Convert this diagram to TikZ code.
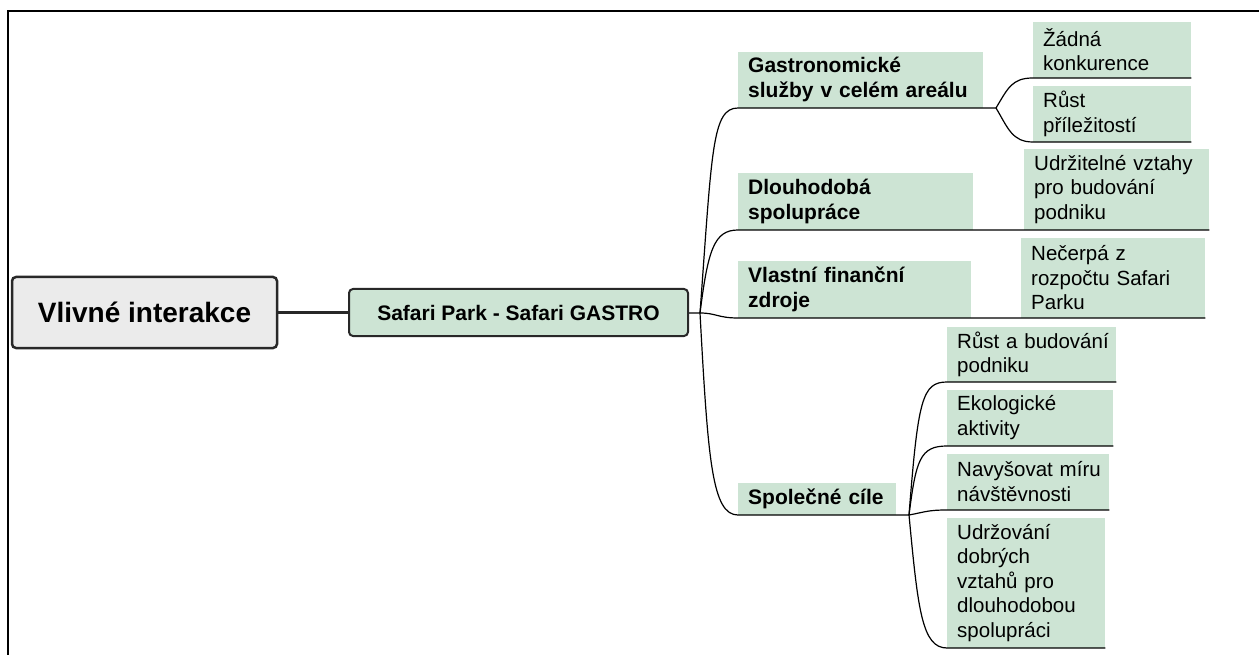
\documentclass[tikz,border=0pt]{standalone}
\usepackage{fontspec}
\setmainfont{Liberation Sans}
\definecolor{boxgreen}{RGB}{205,228,212}
\definecolor{rootgray}{RGB}{235,235,235}
\definecolor{edgegray}{RGB}{40,40,40}

\begin{document}
\begin{tikzpicture}[x=1pt, y=-1pt,
  rootbox/.style={draw=edgegray, line width=2.5pt, rounded corners=4pt, fill=rootgray, minimum width=265pt, minimum height=71pt, font=\bfseries\fontsize{28}{34}\selectfont},
  mainbox/.style={draw=edgegray, line width=2pt, rounded corners=4pt, fill=boxgreen, minimum width=339pt, minimum height=47pt, font=\bfseries\fontsize{21}{25}\selectfont},
  topicbox/.style={fill=boxgreen, anchor=south west, align=left, inner xsep=10pt, inner ysep=0pt, font=\bfseries\fontsize{21}{25}\selectfont, execute at begin node={\hyphenpenalty=10000\relax\hfuzz=20pt\relax}},
  leafbox/.style={fill=boxgreen, anchor=south west, align=left, inner xsep=10pt, inner ysep=0pt, font=\fontsize{20.5}{24.5}\selectfont, execute at begin node={\hyphenpenalty=10000\relax\hfuzz=20pt\relax}},
  branch/.style={draw=black, line width=1.2pt}]
  \useasboundingbox (0,0) rectangle (1259,655);
  \draw[line width=2pt] (7.5,655) -- (7.5,11) -- (1259,11);

  \node (root) at (144.5,312.5) [rootbox] {Vlivné interakce};
  \node (safari) at (518.5,312.5) [mainbox] {Safari Park - Safari GASTRO};
  \coordinate (hub) at (700,313);

  \node (gastro) at (738,108) [topicbox, text width=225pt, minimum height=56pt] {Gastronomické\\služby~v~celém~areálu};
  \node (zadna) at (1033,78) [leafbox, text width=138pt, minimum height=56pt] {Žádná\\konkurence};
  \node (rust) at (1033,142) [leafbox, text width=138pt, minimum height=56pt] {Růst\\příležitostí};
  \node (dlouho) at (738,230) [topicbox, text width=215pt, minimum height=57pt] {Dlouhodobá\\spolupráce};
  \node (udrz) at (1024,230) [leafbox, text width=165pt, minimum height=81pt] {Udržitelné~vztahy\\pro~budování\\podniku};
  \node (vlastni) at (738,318) [topicbox, text width=213pt, minimum height=57pt] {Vlastní~finanční\\zdroje};
  \node (necerpa) at (1021,318) [leafbox, text width=164pt, minimum height=80pt] {Nečerpá~z\\rozpočtu~Safari\\Parku};
  \node (spolecne) at (738,515) [topicbox, text width=138pt, minimum height=32pt] {Společné~cíle};
  \node (rustbud) at (947,382) [leafbox, text width=149pt, minimum height=55pt] {Růst~a~budování\\podniku};
  \node (eko) at (947,446) [leafbox, text width=146pt, minimum height=56pt] {Ekologické\\aktivity};
  \node (navys) at (947,510) [leafbox, text width=142pt, minimum height=56pt] {Navyšovat~míru\\návštěvnosti};
  \node (udrzov) at (947,648) [leafbox, text width=138pt, minimum height=130pt] {Udržování\\dobrých\\vztahů~pro\\dlouhodobou\\spolupráci};
  \coordinate (gfork) at (996,108);
  \coordinate (sfork) at (909,515);

  \draw[draw=edgegray, line width=3pt] (root) -- (safari);
  \draw[branch] (safari) -- (hub);
  \draw[branch] (hub) .. controls (712,150) and (712,108) .. (gastro.south west) -- (gfork);
  \draw[branch] (hub) .. controls (708,250) and (714,230) .. (dlouho.south west) -- (udrz.south east);
  \draw[branch] (hub) .. controls (716,313) and (718,318) .. (vlastni.south west) -- (necerpa.south east);
  \draw[branch] (hub) .. controls (708,460) and (712,515) .. (spolecne.south west) -- (sfork);
  \draw[branch] (gfork) .. controls (1008,88) and (1012,78) .. (zadna.south west) -- (zadna.south east);
  \draw[branch] (gfork) .. controls (1008,128) and (1012,142) .. (rust.south west) -- (rust.south east);
  \draw[branch] (sfork) .. controls (918,400) and (922,382) .. (rustbud.south west) -- (rustbud.south east);
  \draw[branch] (sfork) .. controls (916,460) and (920,446) .. (eko.south west) -- (eko.south east);
  \draw[branch] (sfork) .. controls (925,512) and (928,510) .. (navys.south west) -- (navys.south east);
  \draw[branch] (sfork) .. controls (918,610) and (922,648) .. (udrzov.south west) -- (udrzov.south east);
\end{tikzpicture}
\end{document}
